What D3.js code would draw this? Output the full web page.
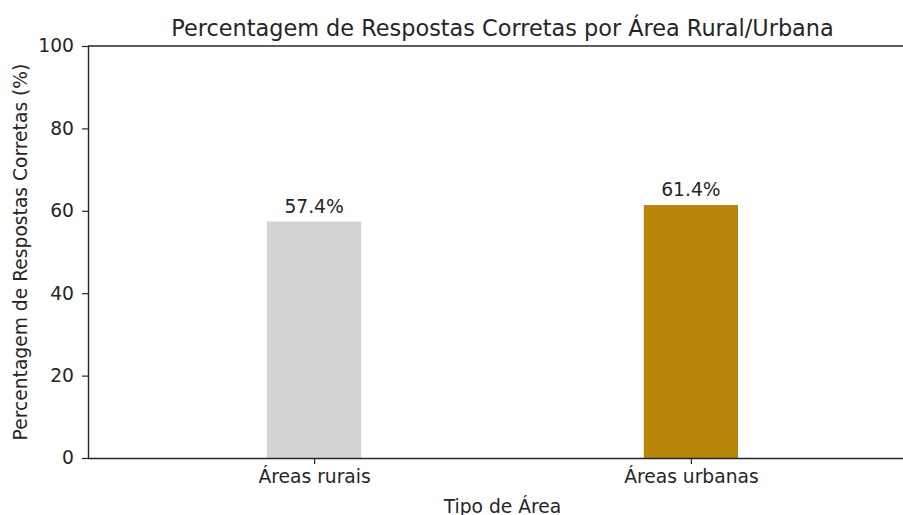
<!doctype html>
<html lang="en">
<head>
  <meta charset="utf-8">
  <title>Percentagem de Respostas Corretas</title>
  <script src="https://d3js.org/d3.v7.min.js"></script>
  <style>
    body { margin: 0; background: #fff; }
    text { font-family: "DejaVu Sans", sans-serif; fill: #262626; }
  </style>
</head>
<body>
  <div id="chart"></div>
  <script type="text/javascript">
    // canvas
    var width = 903, height = 515;

    // data
    var categories = ['Áreas rurais', 'Áreas urbanas'];
    var values = [57.4, 61.4];
    var colors = ['#d3d3d3', '#b8860b'];
    var yTicks = [0, 20, 40, 60, 80, 100];

    var margin = {left: 88, top: 46, bottom: 57};
    var plotRight = 917; // axes run past the right edge of the picture
    var fontSize = '18.7px';

    var svg = d3.select('#chart')
      .append('svg')
      .attr('width', width)
      .attr('height', height);

    // x is the category index, with the same padding as the original plot
    var x = d3.scaleLinear()
      .domain([-0.6, categories.length - 1 + 0.6])
      .range([margin.left, plotRight]);
    var barWidth = x(0.25) - x(0);

    var y = d3.scaleLinear()
      .domain([0, 100])
      .range([height - margin.bottom, margin.top]);

    // bars
    svg.selectAll('.bar')
      .data(values)
      .enter()
      .append('rect')
      .attr('class', 'bar')
      .attr('x', function(d, i) { return x(i) - barWidth / 2; })
      .attr('y', function(d) { return y(d); })
      .attr('width', barWidth)
      .attr('height', function(d) { return y(0) - y(d); })
      .attr('fill', function(d, i) { return colors[i]; });

    // value labels
    svg.selectAll('.val')
      .data(values)
      .enter()
      .append('text')
      .attr('class', 'val')
      .attr('x', function(d, i) { return x(i); })
      .attr('y', function(d) { return y(d) - 9; })
      .attr('text-anchor', 'middle')
      .style('font-size', fontSize)
      .text(function(d) { return d.toFixed(1) + '%'; });

    // y axis
    var yAxis = svg.append('g')
      .attr('transform', 'translate(' + margin.left + ',0)')
      .call(d3.axisLeft(y).tickValues(yTicks).tickSize(6).tickPadding(8));

    // x axis
    var xAxis = svg.append('g')
      .attr('transform', 'translate(0,' + y(0) + ')')
      .call(d3.axisBottom(x)
        .tickValues(d3.range(categories.length))
        .tickFormat(function(d) { return categories[d]; })
        .tickSize(6).tickPadding(6));

    [yAxis, xAxis].forEach(function(g) {
      g.selectAll('text').style('font-size', fontSize).style('font-family', '"DejaVu Sans", sans-serif').attr('fill', '#262626');
      g.selectAll('line').attr('stroke', '#262626').attr('stroke-width', 1.2);
      g.select('.domain').attr('stroke', '#262626').attr('stroke-width', 1.4);
    });
    // matplotlib draws the spine without the outer tick ends
    xAxis.select('.domain').attr('d', 'M' + margin.left + ',0.5H' + plotRight);
    yAxis.select('.domain').attr('d', 'M0.5,' + y(0) + 'V' + y(100));

    // top spine
    svg.append('line')
      .attr('x1', margin.left).attr('x2', plotRight)
      .attr('y1', y(100)).attr('y2', y(100))
      .attr('stroke', '#262626').attr('stroke-width', 1.4);

    // title and axis labels
    svg.append('text')
      .attr('x', (margin.left + plotRight) / 2)
      .attr('y', 36)
      .attr('text-anchor', 'middle')
      .style('font-size', '22.4px')
      .text('Percentagem de Respostas Corretas por Área Rural/Urbana');

    svg.append('text')
      .attr('x', (margin.left + plotRight) / 2)
      .attr('y', 513)
      .attr('text-anchor', 'middle')
      .style('font-size', fontSize)
      .text('Tipo de Área');

    svg.append('text')
      .attr('transform', 'translate(27,' + y(50) + ') rotate(-90)')
      .attr('text-anchor', 'middle')
      .style('font-size', fontSize)
      .text('Percentagem de Respostas Corretas (%)');
  </script>
</body>
</html>
